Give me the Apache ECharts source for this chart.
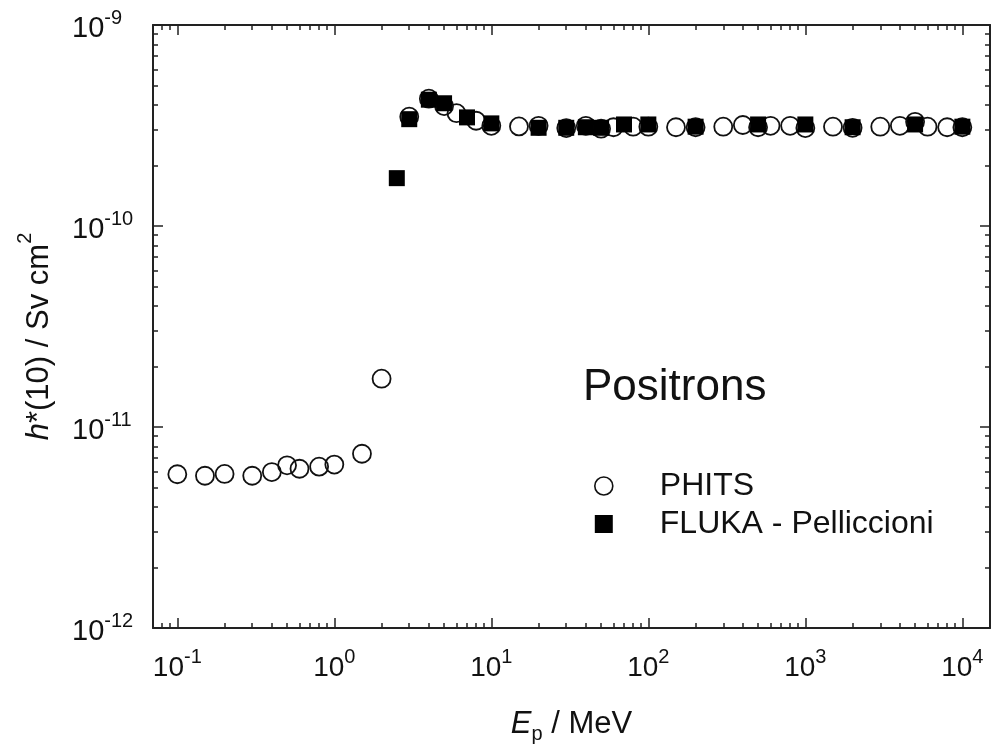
<!DOCTYPE html>
<html>
<head>
<meta charset="utf-8">
<script src="https://cdn.jsdelivr.net/npm/echarts@6/dist/echarts.min.js"></script>
<style>
html,body{margin:0;padding:0;background:#fff;}
#chart{width:993px;height:749px;}
</style>
</head>
<body>
<div id="chart"></div>
<script>
// ---- data ----
const phitsE = [0.1, 0.15, 0.2, 0.3, 0.4, 0.5, 0.6, 0.8, 1.0, 1.5, 2, 3, 4, 5, 6, 8, 10, 15, 20, 30, 40, 50, 60, 80, 100, 150, 200, 300, 400, 500, 600, 800, 1000, 1500, 2000, 3000, 4000, 5000, 6000, 8000, 10000];
const phitsH = [5.82e-12, 5.72e-12, 5.84e-12, 5.72e-12, 5.97e-12, 6.45e-12, 6.2e-12, 6.35e-12, 6.5e-12, 7.36e-12, 1.74e-11, 3.5e-10, 4.3e-10, 3.95e-10, 3.64e-10, 3.34e-10, 3.15e-10, 3.13e-10, 3.15e-10, 3.07e-10, 3.15e-10, 3.05e-10, 3.1e-10, 3.12e-10, 3.12e-10, 3.1e-10, 3.1e-10, 3.12e-10, 3.18e-10, 3.1e-10, 3.15e-10, 3.15e-10, 3.07e-10, 3.12e-10, 3.08e-10, 3.12e-10, 3.15e-10, 3.3e-10, 3.12e-10, 3.1e-10, 3.1e-10];
const flukaE = [2.5, 3, 4, 5, 7, 10, 20, 30, 40, 50, 70, 100, 200, 500, 1000, 2000, 5000, 10000];
const flukaH = [1.73e-10, 3.4e-10, 4.25e-10, 4.08e-10, 3.47e-10, 3.24e-10, 3.08e-10, 3.08e-10, 3.1e-10, 3.08e-10, 3.2e-10, 3.2e-10, 3.12e-10, 3.2e-10, 3.2e-10, 3.1e-10, 3.2e-10, 3.12e-10];
const seriesNames = ['PHITS', 'FLUKA - Pelliccioni'];
const legendTitle = 'Positrons';
const xMajorTicks = [0.1, 1, 10, 100, 1000, 10000];
const yMajorTicks = [1e-12, 1e-11, 1e-10, 1e-9];
const xRange = [0.07, 15000];
const yRange = [1e-12, 1e-9];

// minor tick values (2..9 x each decade) inside the axis range
function minorTicks(range, d0, d1) {
  const out = [];
  for (let d = d0; d <= d1; d++) {
    for (let m = 2; m <= 9; m++) {
      const v = m * Math.pow(10, d);
      if (v > range[0] * 1.0001 && v < range[1] * 0.9999) out.push(v);
    }
  }
  return out;
}
const xMinorTicks = minorTicks(xRange, -2, 4);
const yMinorTicks = minorTicks(yRange, -12, -10);

const FONT = '"Liberation Sans", Arial, sans-serif';
const AX = '#222';
const TXT = '#111';

function powLabel(v) {
  const e = Math.round(Math.log10(v));
  return '{b|10}{s|' + e + '}';
}
function labelRich(base, sup) {
  return {
    b: { fontSize: base, fontFamily: FONT, color: TXT, lineHeight: 36, verticalAlign: 'bottom' },
    s: { fontSize: sup, fontFamily: FONT, color: TXT, lineHeight: 20, verticalAlign: 'top', padding: [1, 0, 0, 0] }
  };
}

function makeAxis(kind, pos, major, range, withLabels, withLine) {
  const ax = {
    type: 'log',
    logBase: 10,
    position: pos,
    min: range[0],
    max: range[1],
    gridIndex: 0,
    splitLine: { show: false },
    axisLine: { show: withLine, onZero: false, lineStyle: { color: AX, width: 2 } },
    axisTick: {
      show: true,
      inside: true,
      length: major ? 10 : 5,
      lineStyle: { color: AX, width: 1.5 },
      customValues: major ? (kind === 'x' ? xMajorTicks : yMajorTicks) : (kind === 'x' ? xMinorTicks : yMinorTicks)
    },
    minorTick: { show: false },
    axisLabel: { show: false }
  };
  if (withLabels) {
    ax.axisLabel = {
      show: true,
      customValues: kind === 'x' ? xMajorTicks : yMajorTicks,
      formatter: powLabel,
      rich: kind === 'x' ? labelRich(28, 20) : labelRich(29, 20),
      margin: kind === 'x' ? 18 : 81,
      align: kind === 'x' ? 'center' : 'left',
      showMinLabel: true,
      showMaxLabel: true
    };
  }
  return ax;
}

const xAxes = [
  makeAxis('x', 'bottom', true, xRange, true, true),
  makeAxis('x', 'bottom', false, xRange, false, false),
  makeAxis('x', 'top', true, xRange, false, true),
  makeAxis('x', 'top', false, xRange, false, false)
];
xAxes[0].name = '{i|E}{sub|p}{n| / MeV}';
xAxes[0].nameLocation = 'middle';
xAxes[0].nameGap = 76;
xAxes[0].nameTextStyle = {
  rich: {
    i: { fontSize: 31, fontStyle: 'italic', fontFamily: FONT, color: TXT, lineHeight: 40, verticalAlign: 'middle' },
    sub: { fontSize: 20, fontFamily: FONT, color: TXT, lineHeight: 20, verticalAlign: 'bottom' },
    n: { fontSize: 31, fontFamily: FONT, color: TXT, lineHeight: 40, verticalAlign: 'middle' }
  }
};

const yAxes = [
  makeAxis('y', 'left', true, yRange, true, true),
  makeAxis('y', 'left', false, yRange, false, false),
  makeAxis('y', 'right', true, yRange, false, true),
  makeAxis('y', 'right', false, yRange, false, false)
];
yAxes[0].name = '{i|h}{n|*(10) / Sv cm}{s|2}';
yAxes[0].nameLocation = 'middle';
yAxes[0].nameRotate = 90;
yAxes[0].nameGap = 98;
yAxes[0].nameTextStyle = {
  padding: [0, 20, 0, 0],
  rich: {
    i: { fontSize: 31, fontStyle: 'italic', fontFamily: FONT, color: TXT, lineHeight: 40, verticalAlign: 'bottom' },
    n: { fontSize: 31, fontFamily: FONT, color: TXT, lineHeight: 40, verticalAlign: 'bottom' },
    s: { fontSize: 20, fontFamily: FONT, color: TXT, lineHeight: 20, verticalAlign: 'top' }
  }
};

const phitsData = phitsE.map((e, i) => [e, phitsH[i]]);
const flukaData = flukaE.map((e, i) => [e, flukaH[i]]);

const chart = echarts.init(document.getElementById('chart'), null, { renderer: 'canvas' });
chart.setOption({
  animation: false,
  backgroundColor: '#fff',
  grid: { left: 153, top: 25, right: 3, bottom: 121, containLabel: false, outerBoundsMode: 'none' },
  title: {
    text: legendTitle,
    left: 578,
    top: 361,
    textStyle: { fontSize: 44, fontWeight: 'normal', fontFamily: FONT, color: TXT }
  },
  legend: {
    orient: 'vertical',
    left: 589,
    top: 465,
    itemWidth: 18,
    itemHeight: 18,
    itemGap: 6,
    selectedMode: false,
    textStyle: { fontSize: 32, fontFamily: FONT, color: TXT, lineHeight: 31, padding: [0, 0, 0, 42] },
    data: [
      { name: seriesNames[0], icon: 'circle', itemStyle: { color: '#fff', borderColor: '#111', borderWidth: 1.6 } },
      { name: seriesNames[1], icon: 'rect', itemStyle: { color: '#000' } }
    ]
  },
  xAxis: xAxes,
  yAxis: yAxes,
  series: [
    {
      name: seriesNames[0],
      type: 'scatter',
      xAxisIndex: 0,
      yAxisIndex: 0,
      symbol: 'circle',
      symbolSize: 18,
      itemStyle: { color: 'rgba(255,255,255,0)', borderColor: '#111', borderWidth: 1.8, opacity: 1 },
      data: phitsData
    },
    {
      name: seriesNames[1],
      type: 'scatter',
      xAxisIndex: 0,
      yAxisIndex: 0,
      symbol: 'rect',
      symbolSize: 16,
      itemStyle: { color: '#000', opacity: 1 },
      data: flukaData
    }
  ]
});
</script>
</body>
</html>
